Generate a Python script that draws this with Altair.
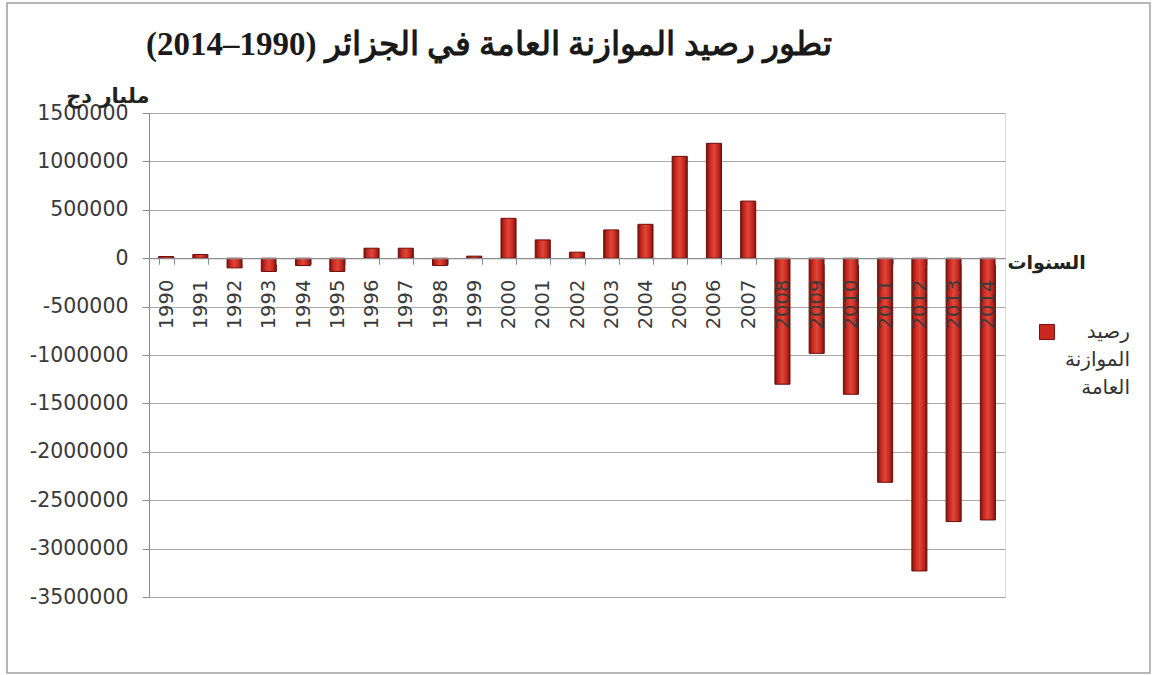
import altair as alt
import pandas as pd

# ---- data ----
years = [str(y) for y in range(1990, 2015)]
balance = [17000, 38000, -100000, -137000, -76000, -137000, 103000, 103000,
           -76000, 21000, 412000, 189000, 62000, 292000, 350000, 1052000,
           1187000, 590000, -1302000, -983000, -1406000, -2315000, -3231000,
           -2721000, -2704000]
series_name = "رصيد الموازنة العامة"
y_ticks = [-3500000, -3000000, -2500000, -2000000, -1500000, -1000000,
           -500000, 0, 500000, 1000000, 1500000]
title_text = "تطور رصيد الموازنة العامة في الجزائر (1990–2014)"
y_title = "مليار دج"
x_title = "السنوات"

# ---- layout ----
W, H = 856, 484
Y_MIN, Y_MAX = -3500000, 1500000
zero_from_bottom = H * (0 - Y_MIN) / (Y_MAX - Y_MIN)

df = pd.DataFrame({"year": years, "balance": balance})
legend_df = pd.DataFrame({"label": [series_name]})
frame_df = pd.DataFrame({"k": [0]})

grad = alt.Gradient(
    gradient="linear", x1=0, x2=1, y1=0, y2=0,
    stops=[
        alt.GradientStop(offset=0, color="#7a110d"),
        alt.GradientStop(offset=0.22, color="#c4281e"),
        alt.GradientStop(offset=0.5, color="#e2463a"),
        alt.GradientStop(offset=0.78, color="#c4281e"),
        alt.GradientStop(offset=1, color="#7a110d"),
    ],
)

x_enc = alt.X(
    "year:N",
    sort=years,
    scale=alt.Scale(paddingInner=0.56, paddingOuter=0.28),
    axis=alt.Axis(
        title=x_title,
        titleFont="DejaVu Sans", titleFontSize=19, titleFontWeight="bold",
        titleColor="#222222", titleAngle=0, titleAlign="left",
        titleBaseline="middle", titleX=W + 2, titleY=4,
        labelAngle=270, labelFont="DejaVu Sans", labelFontSize=19.5,
        labelColor="#3a3a3a", labelPadding=15,
        tickBand="extent", tickSize=6, tickColor="#8c8c8c",
        domainColor="#8c8c8c", domainWidth=1.2,
        offset=-zero_from_bottom, zindex=1, grid=False,
    ),
)

y_enc = alt.Y(
    "balance:Q",
    scale=alt.Scale(domain=[Y_MIN, Y_MAX], nice=False, zero=True),
    axis=alt.Axis(
        values=y_ticks,
        labelExpr="datum.value + ''",
        title=y_title,
        titleFont="DejaVu Sans", titleFontSize=21, titleFontWeight="bold",
        titleColor="#222222", titleAngle=0, titleAlign="right",
        titleBaseline="alphabetic", titleX=0, titleY=-11,
        labelFont="DejaVu Sans", labelFontSize=20.5, labelColor="#3a3a3a",
        labelPadding=14, tickSize=7, tickColor="#8c8c8c",
        domainColor="#8c8c8c", grid=True, gridColor="#a8a8a8",
        gridWidth=1, zindex=0,
    ),
)

bars = alt.Chart(df).mark_bar(
    color=grad, stroke="#6a0e0b", strokeWidth=1
).encode(x=x_enc, y=y_enc)

frame = alt.Chart(frame_df).mark_rect(
    fill="transparent", stroke="#a0a0a0", strokeWidth=1.5
).encode(
    x=alt.value(-142), x2=alt.value(1001),
    y=alt.value(-110), y2=alt.value(560),
)

legend_symbol = alt.Chart(legend_df).mark_square(
    size=225, color="#c8281f", stroke="#7a110d", strokeWidth=1, opacity=1
).encode(x=alt.value(898), y=alt.value(219))

legend_text = alt.Chart(legend_df).mark_text(
    align="right", baseline="middle", lineBreak=" ", lineHeight=28,
    font="DejaVu Sans", fontSize=20, color="#333333"
).encode(x=alt.value(981), y=alt.value(219), text="label:N")

chart = alt.layer(frame, bars, legend_symbol, legend_text).properties(
    width=W,
    height=H,
    autosize=alt.AutoSizeParams(type="none"),
    padding={"left": 149, "top": 113, "right": 150, "bottom": 78},
    title=alt.TitleParams(
        text="\u202b" + title_text + "\u202c",
        anchor="start", frame="group", offset=20, dy=80,
        dx=-3,
        font="Liberation Serif", fontSize=33, fontWeight="bold",
        color="#1a1a1a",
    ),
).configure_view(stroke=None).configure(background="white")

chart.save("out.html", embed_options={"renderer": "svg", "actions": False})
